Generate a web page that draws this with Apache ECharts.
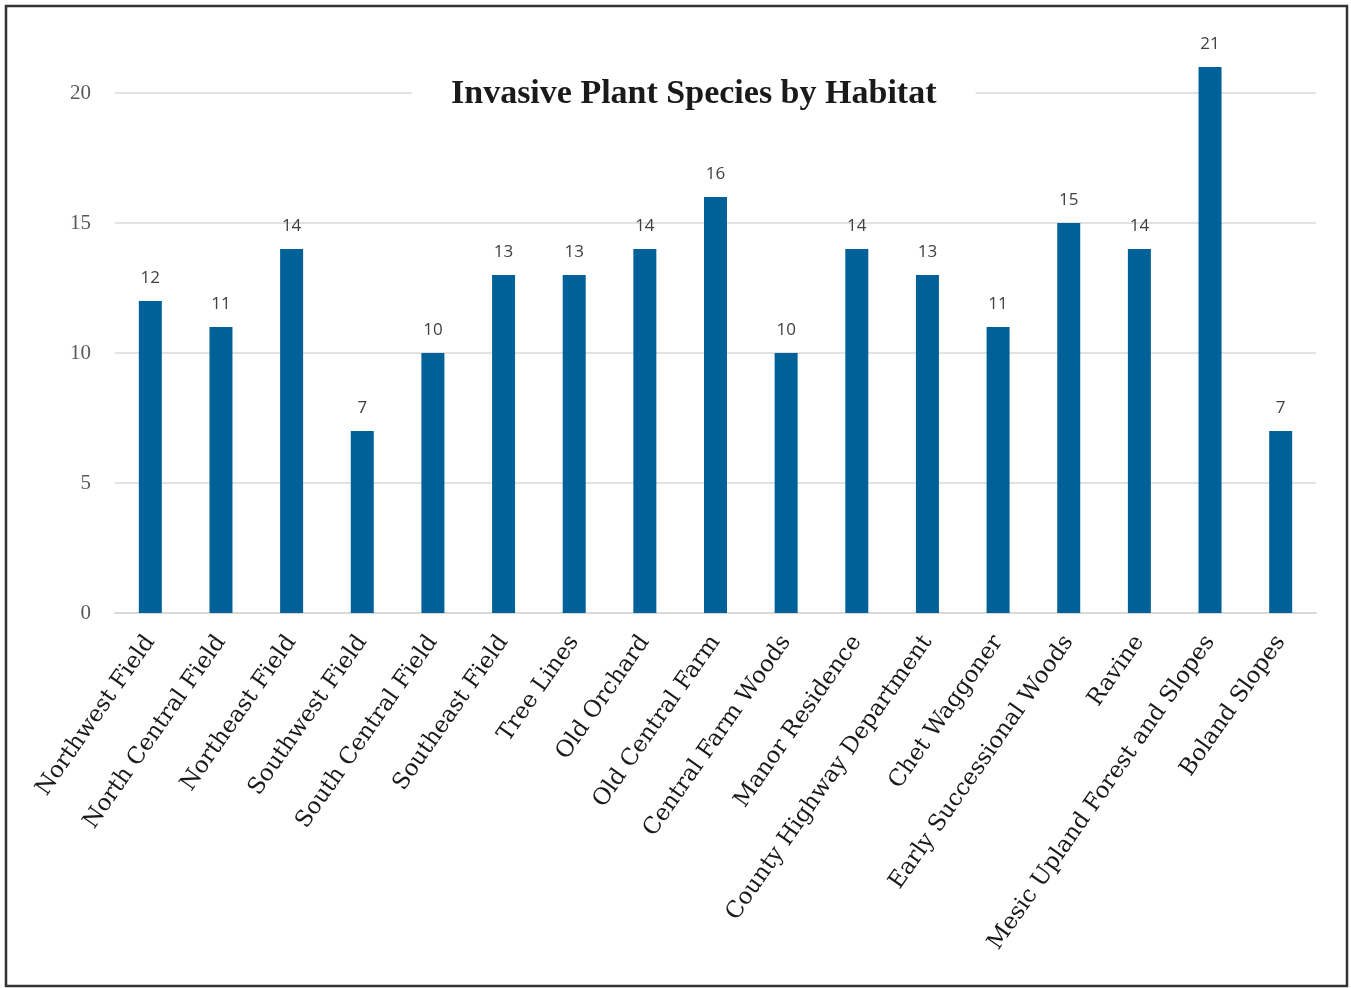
<!DOCTYPE html>
<html>
<head>
<meta charset="utf-8">
<script src="https://cdn.jsdelivr.net/npm/echarts@6/dist/echarts.min.js"></script>
<style>
  html, body { margin: 0; padding: 0; background: #ffffff; }
  #chart { width: 1351px; height: 988px; }
</style>
</head>
<body>
<div id="chart"></div>
<script>
// Habitats surveyed and the count of invasive plant species found in each
const habitats = [
  'Northwest Field', 'North Central Field', 'Northeast Field', 'Southwest Field',
  'South Central Field', 'Southeast Field', 'Tree Lines', 'Old Orchard',
  'Old Central Farm', 'Central Farm Woods', 'Manor Residence',
  'County Highway Department', 'Chet Waggoner', 'Early Successional Woods',
  'Ravine', 'Mesic Upland Forest and Slopes', 'Boland Slopes'
];
const speciesCounts = [12, 11, 14, 7, 10, 13, 13, 14, 16, 10, 14, 13, 11, 15, 14, 21, 7];
const yTicks = [0, 5, 10, 15, 20];

const serif = '"Liberation Serif", "DejaVu Serif", serif';
const wideSerif = '"DejaVu Serif", "Liberation Serif", serif';
const sans = '"Open Sans", "Noto Sans", sans-serif';

const chart = echarts.init(document.getElementById('chart'), null, { renderer: 'canvas' });

chart.setOption({
  backgroundColor: '#ffffff',
  animation: false,
  title: {
    text: 'Invasive Plant Species by Habitat',
    left: 412,
    top: 77,
    padding: [0, 39],
    backgroundColor: '#ffffff',
    textStyle: {
      fontFamily: serif,
      fontWeight: 'bold',
      fontSize: 34,
      color: '#1a1a1a'
    }
  },
  graphic: [{
    type: 'rect',
    z: 100,
    shape: { x: 6, y: 6, width: 1341, height: 980 },
    style: { fill: 'none', stroke: '#333333', lineWidth: 2.5 }
  }],
  grid: { left: 115, right: 35, top: 93, bottom: 375, containLabel: false },
  xAxis: {
    type: 'category',
    data: habitats,
    axisLine: { show: true, lineStyle: { color: '#d9d9d9', width: 2 } },
    axisTick: { show: false },
    axisLabel: {
      interval: 0,
      rotate: 55,
      margin: 25,
      fontFamily: wideSerif,
      fontSize: 23,
      color: '#1a1a1a'
    }
  },
  yAxis: {
    type: 'value',
    min: yTicks[0],
    max: yTicks[yTicks.length - 1],
    interval: 5,
    axisLine: { show: false },
    axisTick: { show: false },
    splitLine: { lineStyle: { color: '#d9d9d9', width: 1.5 } },
    axisLabel: {
      margin: 24,
      fontFamily: serif,
      fontSize: 21,
      color: '#595959'
    }
  },
  series: [{
    type: 'bar',
    data: speciesCounts,
    barWidth: 23,
    clip: false,
    itemStyle: { color: '#006199' },
    label: {
      show: true,
      position: 'top',
      distance: 14,
      fontFamily: sans,
      fontSize: 17,
      color: '#404040'
    }
  }]
});
</script>
</body>
</html>
